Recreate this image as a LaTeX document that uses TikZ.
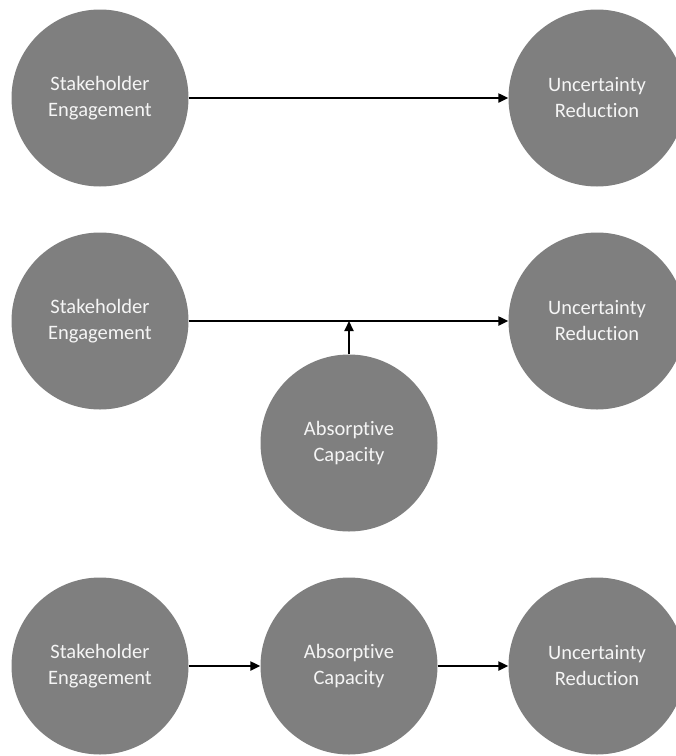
\documentclass[tikz,border=0pt]{standalone}
\usepackage{fontspec}
\setmainfont[Ligatures={NoCommon}]{Carlito}
\usetikzlibrary{arrows.meta}
\definecolor{discgray}{HTML}{7F7F7F}
\definecolor{disctext}{HTML}{F5F5F5}
\tikzset{
  disc/.style={circle, fill=discgray, minimum size=177pt, inner sep=0pt,
    text=disctext, align=center,
    font=\fontsize{20.5pt}{26pt}\selectfont},
  arr/.style={line width=2.2pt, -{Triangle[length=10pt,width=9pt]}}
}
\begin{document}
\begin{tikzpicture}[x=1pt,y=-1pt]
\useasboundingbox (0,0) rectangle (676,756);
% top row: direct effect
\node[disc] (se1) at (100,98) {Stakeholder\\Engagement};
\node[disc] (ur1) at (597,98) {Uncertainty\\Reduction};
\draw[arr] (se1) -- (ur1);
% middle row: moderation
\node[disc] (se2) at (100,321) {Stakeholder\\Engagement};
\node[disc] (ur2) at (597,321) {Uncertainty\\Reduction};
\node[disc] (ac2) at (349,443) {Absorptive\\Capacity};
\draw[arr] (se2) -- (ur2);
\coordinate (mod) at (ac2.north |- se2.east);
\draw[arr] (ac2.north) -- (mod);
% bottom row: mediation
\node[disc] (se3) at (100,666) {Stakeholder\\Engagement};
\node[disc] (ac3) at (349,666) {Absorptive\\Capacity};
\node[disc] (ur3) at (597,666) {Uncertainty\\Reduction};
\draw[arr] (se3) -- (ac3);
\draw[arr] (ac3) -- (ur3);
\end{tikzpicture}
\end{document}
